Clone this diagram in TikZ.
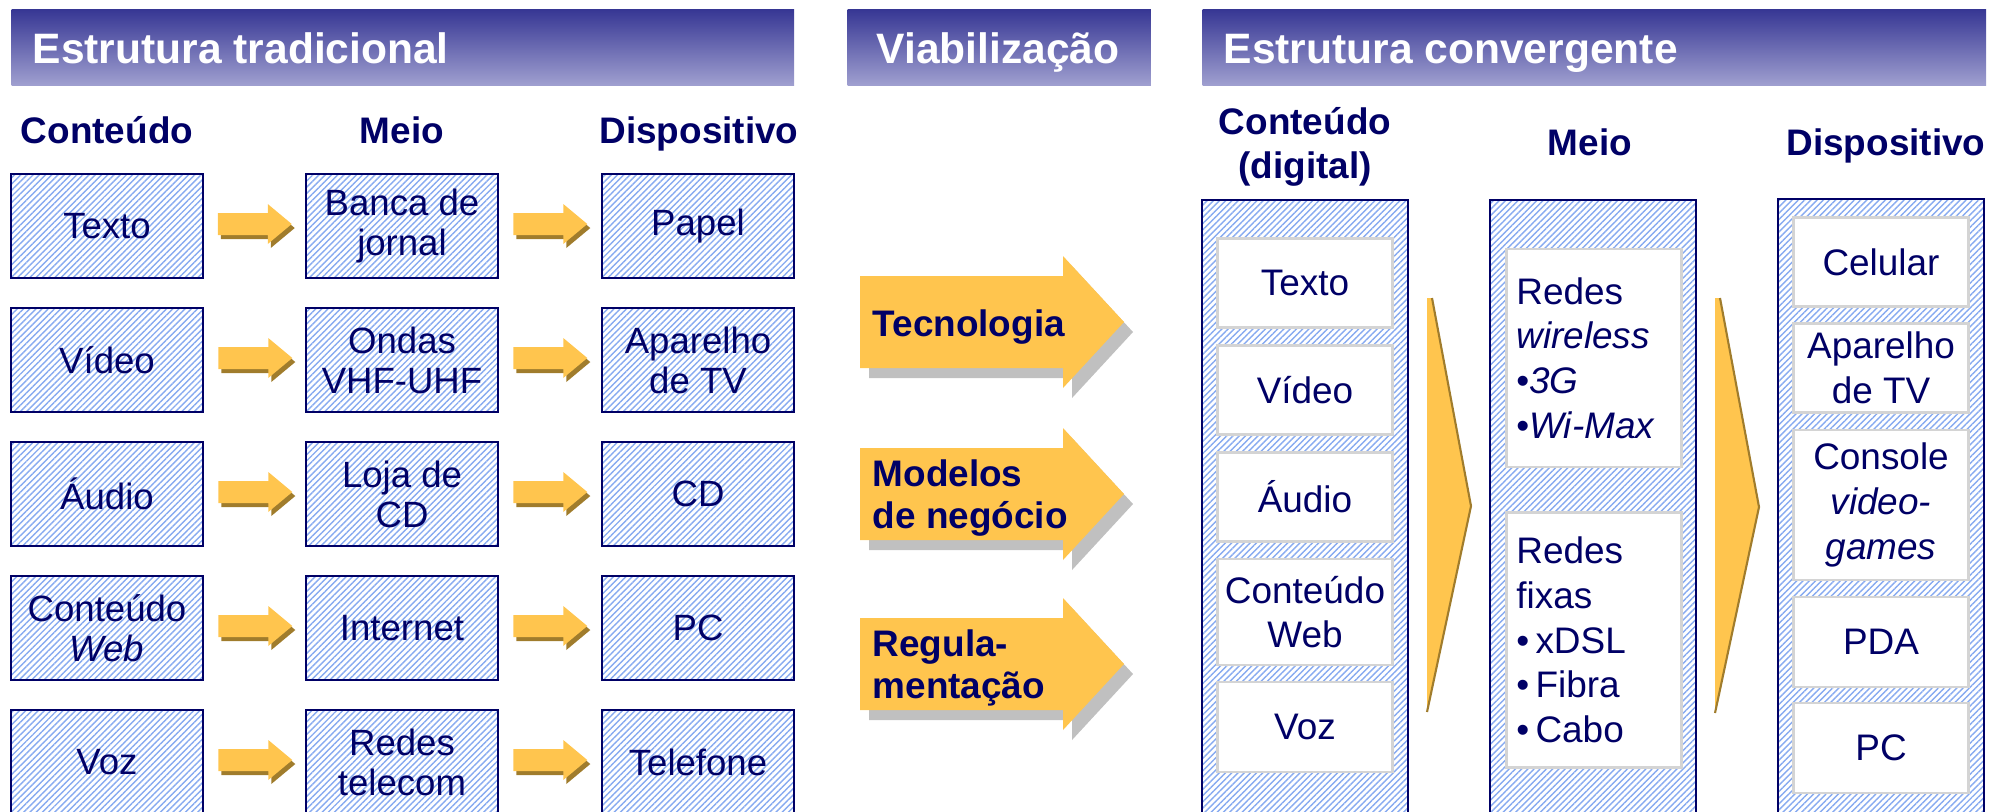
\documentclass[tikz,border=0pt]{standalone}
\usepackage{fontspec}
\setmainfont{Liberation Sans}
\usetikzlibrary{positioning, calc, patterns.meta, shadows}

\definecolor{navytext}{RGB}{0,0,102}
\definecolor{hatchblue}{RGB}{135,170,240}
\definecolor{bartop}{RGB}{55,55,148}
\definecolor{barbottom}{RGB}{160,160,208}
\definecolor{gold}{RGB}{255,197,78}
\definecolor{darkgold}{RGB}{160,124,44}
\definecolor{shadowgray}{RGB}{192,192,192}
\definecolor{cellgray}{RGB}{212,212,212}

\newcommand{\hdrfont}{\fontsize{12.1}{14}\selectfont\bfseries}
\newcommand{\colfont}{\fontsize{10.5}{12.6}\selectfont\bfseries}
\newcommand{\arrowfont}{\fontsize{10.5}{11.8}\selectfont\bfseries}
\newcommand{\tradfont}{\fontsize{10.4}{11.4}\selectfont}
\newcommand{\convfont}{\fontsize{10.5}{12.7}\selectfont}

\tikzset{
        hatched/.style={
            pattern={Lines[angle=45, distance=1.25pt, line width=0.4pt]}, pattern color=hatchblue
        },
        header-bar/.style={
            minimum height=0.76cm, inner sep=0pt, anchor=north west,
            top color=bartop, bottom color=barbottom
        },
        header-text/.style={text=white, font=\hdrfont, inner sep=0pt},
        col-title/.style={text=navytext, font=\colfont, align=center, inner sep=0pt},
        trad-box/.style={
            draw=navytext, line width=0.7pt, hatched, minimum width=1.92cm, minimum height=1.04cm,
            inner sep=0pt, align=center, text=navytext, font=\tradfont
        },
        conv-col/.style={
            draw=navytext, line width=0.7pt, hatched, minimum width=2.06cm, minimum height=6.3cm,
            inner sep=0pt, anchor=north
        },
        conv-box/.style={
            draw=cellgray, line width=0.7pt, fill=white, minimum width=1.75cm,
            inner sep=0pt, align=center, text=navytext, font=\convfont
        },
        arrow-text/.style={text=navytext, font=\arrowfont, align=left, inner sep=0pt},
        chevron/.style={fill=gold},
        pics/smallarrow/.style={code={
            \fill[gold, drop shadow={shadow xshift=0.03cm, shadow yshift=-0.04cm, fill=darkgold, opacity=1}]
                (0,-11) -- (50,-11) -- (50,-20) -- (74,0) -- (50,20) -- (50,11) -- (0,11) -- cycle;
        }},
        pics/bigarrow/.style={code={
            \fill[gold, drop shadow={shadow xshift=0.09cm, shadow yshift=-0.1cm, fill=shadowgray, opacity=1}]
                (0,-46) -- (203,-46) -- (203,-66) -- (264,0) -- (203,66) -- (203,46) -- (0,46) -- cycle;
        }},
}

\begin{document}
\begin{tikzpicture}[x=0.01cm, y=-0.01cm]

        \useasboundingbox (0,0) rectangle (1997,811);
        \clip (0,0) rectangle (1997,811);

        % HEADER BARS
        \node[header-bar, minimum width=7.82cm] (bar-trad) at (11,9)   {};
        \node[header-bar, minimum width=3.03cm] (bar-viab) at (847,9)  {};
        \node[header-bar, minimum width=7.83cm] (bar-conv) at (1202,9) {};
        \node[header-text, anchor=base west] (txt-trad) at (32,63)    {Estrutura tradicional};
        \node[header-text, anchor=base]      (txt-viab) at (998,63)   {Viabilização};
        \node[header-text, anchor=base west] (txt-conv) at (1223,63)  {Estrutura convergente};

        % ESTRUTURA TRADICIONAL (columns titles, then rows)
        \node[col-title, anchor=base] (h-cont) at (107,143) {Conteúdo};
        \node[col-title, anchor=base] (h-meio) at (402,143) {Meio};
        \node[col-title, anchor=base] (h-disp) at (699,143) {Dispositivo};

        \node[trad-box] (trad-c1) at (107,226) {Texto};
        \node[trad-box] (trad-c2) at (107,360) {Vídeo};
        \node[trad-box] (trad-c3) at (107,494) {Áudio};
        \node[trad-box] (trad-c4) at (107,628) {Conteúdo\\\textit{Web}};
        \node[trad-box] (trad-c5) at (107,762) {Voz};

        \node[trad-box] (trad-m1) at (402,226) {Banca de\\jornal};
        \node[trad-box] (trad-m2) at (402,360) {Ondas\\VHF-UHF};
        \node[trad-box] (trad-m3) at (402,494) {Loja de\\CD};
        \node[trad-box] (trad-m4) at (402,628) {Internet};
        \node[trad-box] (trad-m5) at (402,762) {Redes\\telecom};

        \node[trad-box] (trad-d1) at (698,226) {Papel};
        \node[trad-box] (trad-d2) at (698,360) {Aparelho\\de TV};
        \node[trad-box] (trad-d3) at (698,494) {CD};
        \node[trad-box] (trad-d4) at (698,628) {PC};
        \node[trad-box] (trad-d5) at (698,762) {Telefone};

        % SMALL ARROWS BETWEEN THE BOXES
        \pic at ($(trad-c1.east)+(14,-2)$) {smallarrow};
        \pic at ($(trad-c2.east)+(14,-2)$) {smallarrow};
        \pic at ($(trad-c3.east)+(14,-2)$) {smallarrow};
        \pic at ($(trad-c4.east)+(14,-2)$) {smallarrow};
        \pic at ($(trad-c5.east)+(14,-2)$) {smallarrow};
        \pic at ($(trad-m1.east)+(14,-2)$) {smallarrow};
        \pic at ($(trad-m2.east)+(14,-2)$) {smallarrow};
        \pic at ($(trad-m3.east)+(14,-2)$) {smallarrow};
        \pic at ($(trad-m4.east)+(14,-2)$) {smallarrow};
        \pic at ($(trad-m5.east)+(14,-2)$) {smallarrow};

        % VIABILIZACAO
        \pic at (860,322) {bigarrow};
        \pic at (860,494) {bigarrow};
        \pic at (860,664) {bigarrow};
        \node[arrow-text, anchor=base west] (tecno)  at (872,336) {Tecnologia};
        \node[arrow-text, anchor=west]      (modelo) at (872,498) {Modelos\\de negócio};
        \node[arrow-text, anchor=west]      (regula) at (872,668) {Regula-\\mentação};

        % ESTRUTURA CONVERGENTE
        \node[col-title] (h-digital) at (1305,147) {Conteúdo\\(digital)};
        \node[col-title, anchor=base] (h-meio2) at (1590,155) {Meio};
        \node[col-title, anchor=base] (h-disp2) at (1886,155) {Dispositivo};

        \node[conv-col] (col-cont) at (1305,199) {};
        \node[conv-col] (col-meio) at (1593,199) {};
        \node[conv-col] (col-disp) at (1881,198) {};

        \node[conv-box, minimum height=0.89cm] (cont-texto) at (1305,283)   {Texto};
        \node[conv-box, minimum height=0.89cm] (cont-video) at (1305,390)   {Vídeo};
        \node[conv-box, minimum height=0.89cm] (cont-audio) at (1305,497)   {Áudio};
        \node[conv-box, minimum height=1.06cm] (cont-web)   at (1305,612)   {Conteúdo\\Web};
        \node[conv-box, minimum height=0.90cm] (cont-voz)   at (1305,727)   {Voz};

        \node[conv-box, minimum height=2.18cm, text width=1.55cm, align=left] (meio-wl) at (1594,358)
            {Redes\\\textit{wireless}\\•\textit{3G}\\•\textit{Wi-Max}};
        \node[conv-box, minimum height=2.55cm, text width=1.55cm, align=left] (meio-fx) at (1594,640)
            {Redes\\fixas\\•\,xDSL\\•\,Fibra\\•\,Cabo};

        \node[conv-box, minimum height=0.89cm] (disp-cel)  at (1881,262) {Celular};
        \node[conv-box, minimum height=0.89cm] (disp-tv)   at (1881,368) {Aparelho\\de TV};
        \node[conv-box, minimum height=1.50cm] (disp-game) at (1881,505) {Console\\\textit{video-}\\\textit{games}};
        \node[conv-box, minimum height=0.90cm] (disp-pda)  at (1881,642) {PDA};
        \node[conv-box, minimum height=0.90cm] (disp-pc)   at (1881,748) {PC};

        % CHEVRONS BETWEEN THE COLUMNS
        \fill[chevron] (1427,298) -- (1432,298) -- (1471,506) -- (1427,712) -- cycle;
        \draw[darkgold, line width=0.6pt] (1432,298) -- (1471,506) -- (1427,712);
        \fill[chevron] (1715,298) -- (1720,298) -- (1759,507) -- (1715,713) -- cycle;
        \draw[darkgold, line width=0.6pt] (1720,298) -- (1759,507) -- (1715,713);

\end{tikzpicture}
\end{document}
